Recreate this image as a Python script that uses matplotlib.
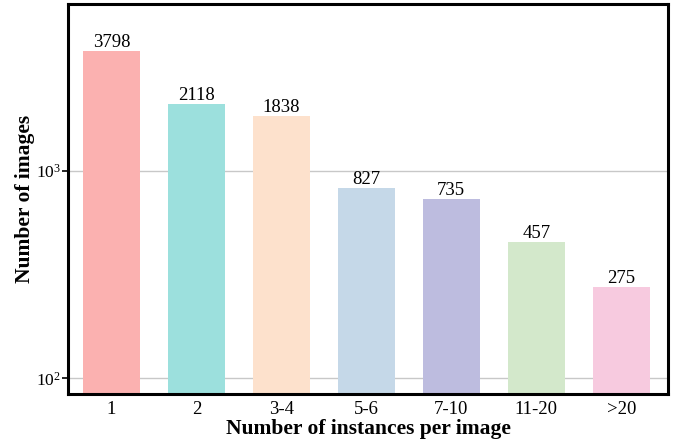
import matplotlib.pyplot as plt

categories = ['1', '2', '3-4', '5-6', '7-10', '11-20', '>20']
counts = [3798, 2118, 1838, 827, 735, 457, 275]
colors = ['#FBB1B0', '#9CE0DD', '#FDE1CC', '#C5D8E8', '#BDBCDF', '#D3E8CB', '#F7CADF']

plt.rcParams['font.family'] = ['Liberation Serif', 'DejaVu Serif']
plt.rcParams['mathtext.fontset'] = 'stix'

fig = plt.figure(figsize=(6.83, 4.45), dpi=100)
ax = fig.add_axes([68 / 683, 1 - 394 / 445, 600 / 683, 390 / 445])

x = range(len(categories))
bars = ax.bar(x, counts, width=0.67, color=colors, zorder=2)
ax.set_yscale('log')
ax.set_ylim(84, 6400)
ax.set_xlim(-0.51, 6.55)

for xi, v in zip(x, counts):
    ax.text(xi, v, str(v), ha='center', va='bottom', fontsize=13.5, zorder=3)

ax.set_xticks(list(x))
ax.set_xticklabels(categories, fontsize=13.5)
ax.tick_params(axis='x', length=0, pad=5)
ax.tick_params(axis='y', which='major', length=4, width=1.2, labelsize=12.5, pad=1)
ax.tick_params(axis='y', which='minor', length=0)
ax.yaxis.grid(True, which='major', color='#c8c8c8', lw=1, zorder=0)

for s in ax.spines.values():
    s.set_linewidth(2.2)

ax.set_xlabel('Number of instances per image', fontsize=15.5, fontweight='bold', labelpad=1)
ax.set_ylabel('Number of images', fontsize=15.5, fontweight='bold', labelpad=1)

fig.savefig('out.png', dpi=100)
